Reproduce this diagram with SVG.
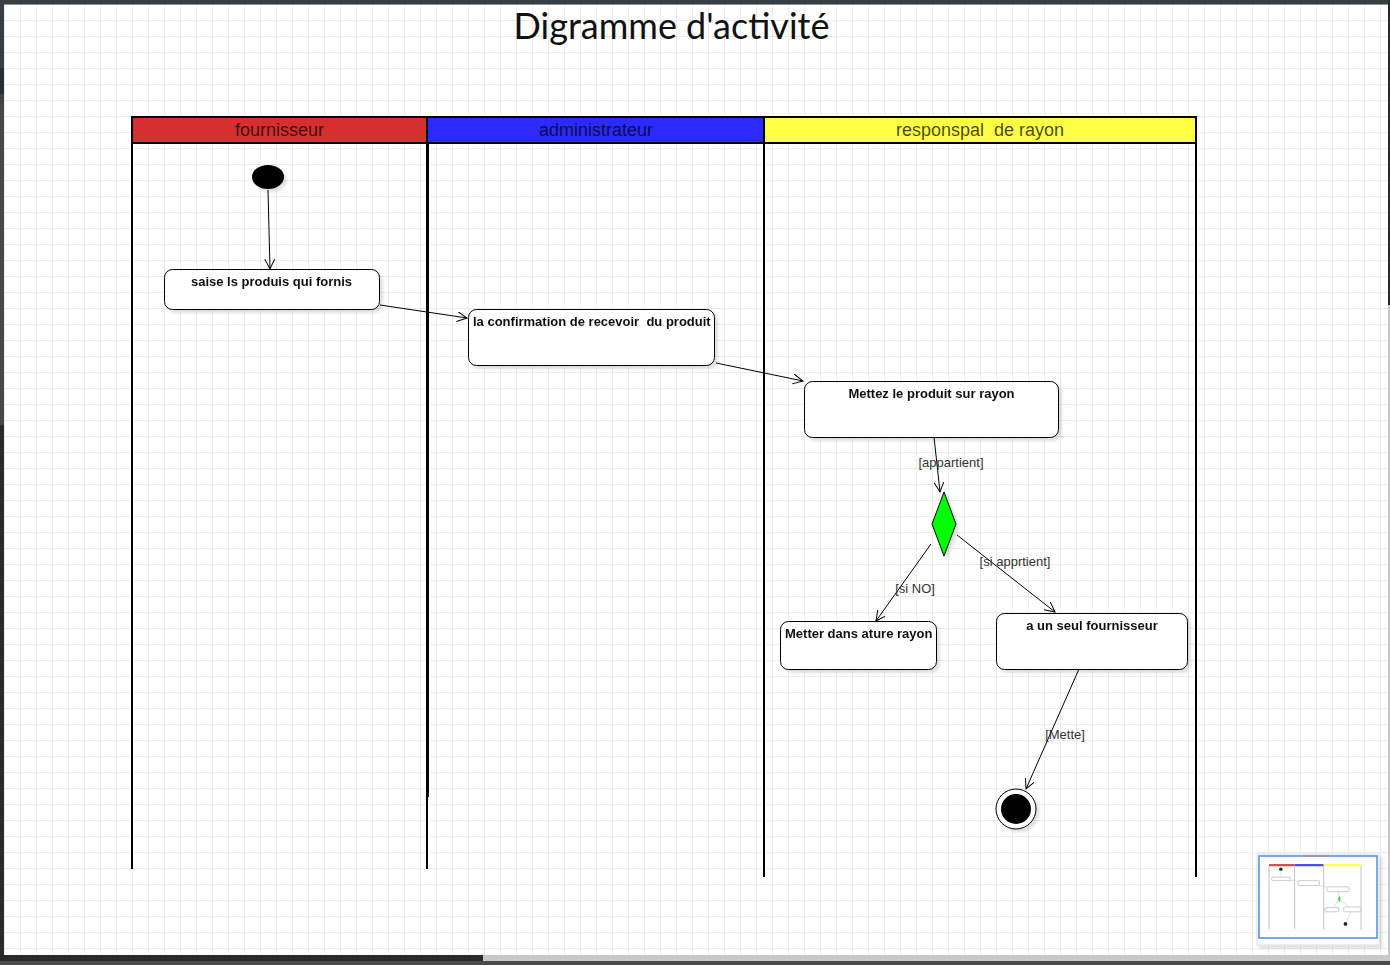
<svg xmlns="http://www.w3.org/2000/svg" width="1390" height="965" viewBox="0 0 1390 965">
<defs>
<pattern id="grid" patternUnits="userSpaceOnUse" x="4" y="4" width="16" height="16">
<rect x="0" y="0" width="1" height="16" fill="#ececec"/>
<rect x="0" y="0" width="16" height="1" fill="#ececec"/>
</pattern>
<filter id="sh" x="-20%" y="-20%" width="150%" height="150%">
<feGaussianBlur in="SourceAlpha" stdDeviation="1.5"/>
<feOffset dx="3" dy="3" result="b"/>
<feComponentTransfer><feFuncA type="linear" slope="0.12"/></feComponentTransfer>
<feMerge><feMergeNode/><feMergeNode in="SourceGraphic"/></feMerge>
</filter>
<marker id="arr" markerUnits="userSpaceOnUse" markerWidth="12" markerHeight="12" refX="10" refY="5" orient="auto" viewBox="0 0 12 12">
<path d="M0,0 L10,5 L0,10" fill="none" stroke="#000" stroke-width="1"/>
</marker>
<style>
.lane{stroke:#000;stroke-width:2;fill:none}
.hdr{stroke:#000;stroke-width:2}
.htxt{font-family:"Liberation Sans",Arial,sans-serif;font-size:18px;fill:#000;fill-opacity:0.72;text-anchor:middle}
.act{fill:#fff;stroke:#000;stroke-width:1}
.atxt{font-family:"Liberation Sans",Arial,sans-serif;font-size:13px;font-weight:bold;fill:#111}
.lbl{font-family:"Liberation Sans",Arial,sans-serif;font-size:13px;fill:#333}
.con{stroke:#000;stroke-width:1;fill:none;marker-end:url(#arr)}
.mini{fill:none;stroke:#bbb;stroke-width:12}
</style>
</defs>
<!-- window chrome -->
<rect x="0" y="0" width="1390" height="965" fill="#fff"/>
<rect x="4" y="4" width="1384" height="951" fill="url(#grid)"/>
<rect x="0" y="0" width="1390" height="4.5" fill="#393e42"/>
<rect x="0" y="0" width="4" height="68" fill="#393e42"/>
<rect x="0" y="68" width="4" height="26" fill="#2b2e30"/>
<rect x="0" y="94" width="4" height="10" fill="#3c4347"/>
<rect x="0" y="104" width="4" height="321" fill="#474747"/>
<rect x="0" y="425" width="4" height="540" fill="#2a2a2a"/>
<rect x="1388" y="0" width="2" height="305" fill="#2a2a2a"/>
<rect x="1388" y="305" width="2" height="650" fill="#c8c8c8"/>
<rect x="0" y="955" width="483" height="6" fill="#2a2a2a"/>
<rect x="483" y="955" width="907" height="6" fill="#c8c8c8"/>
<rect x="0" y="961" width="1390" height="4" fill="#4a4a4a"/>

<text x="671.5" y="39" font-family="Lato, sans-serif" font-size="36" fill="#111" text-anchor="middle">Digramme d'activité</text>

<g id="swimlanes">
<rect x="132" y="117" width="295" height="26" fill="#d62f2f" class="hdr"/>
<rect x="427" y="117" width="337" height="26" fill="#2b2bff" class="hdr"/>
<rect x="764" y="117" width="432" height="26" fill="#ffff44" class="hdr"/>
<text class="htxt" x="279.5" y="135.5">fournisseur</text>
<text class="htxt" x="596" y="135.5">administrateur</text>
<text class="htxt" x="980" y="135.5" xml:space="preserve">responspal  de rayon</text>
<line class="lane" x1="132" y1="143" x2="132" y2="869"/>
<line x1="427.5" y1="143" x2="427.5" y2="797" stroke="#000" stroke-width="3"/>
<line class="lane" x1="427" y1="797" x2="427" y2="869"/>
<line class="lane" x1="764" y1="143" x2="764" y2="877"/>
<line class="lane" x1="1196" y1="143" x2="1196" y2="877"/>
</g>

<g id="connectors">
<line class="con" x1="268" y1="190" x2="270" y2="269"/>
<line class="con" x1="380" y1="305" x2="467" y2="318"/>
<line class="con" x1="716" y1="363" x2="803" y2="381"/>
<line class="con" x1="934" y1="437" x2="940" y2="492"/>
<text class="lbl" x="951" y="466.5" text-anchor="middle">[appartient]</text>
<line class="con" x1="931" y1="544" x2="876" y2="621"/>
<text class="lbl" x="915" y="592.5" text-anchor="middle">[si NO]</text>
<line class="con" x1="957" y1="535" x2="1055" y2="612"/>
<text class="lbl" x="1015" y="565.5" text-anchor="middle">[si apprtient]</text>
<line class="con" x1="1079" y1="669" x2="1026" y2="789"/>
<text class="lbl" x="1065" y="738.5" text-anchor="middle">[Mette]</text>
</g>

<g id="start" filter="url(#sh)">
<ellipse cx="268" cy="177" rx="16" ry="12" fill="#000"/>
</g>
<g id="a1" filter="url(#sh)">
<rect class="act" x="164.5" y="269.5" width="215" height="40" rx="8"/>
<text class="atxt" x="271.5" y="286" text-anchor="middle">saise ls produis qui fornis</text>
</g>
<g id="a2" filter="url(#sh)">
<rect class="act" x="468.5" y="309.5" width="246" height="56" rx="8"/>
<text class="atxt" x="473" y="326" xml:space="preserve">la confirmation de recevoir  du produit</text>
</g>
<g id="a3" filter="url(#sh)">
<rect class="act" x="804.5" y="381.5" width="254" height="56" rx="8"/>
<text class="atxt" x="931.5" y="398" text-anchor="middle">Mettez le produit sur rayon</text>
</g>
<g id="decision" filter="url(#sh)">
<polygon points="944,492 956,524 944,556 932,524" fill="#00ff00" stroke="#000" stroke-width="1"/>
</g>
<g id="a4" filter="url(#sh)">
<rect class="act" x="780.5" y="621.5" width="156" height="48" rx="8"/>
<text class="atxt" x="785" y="638">Metter dans ature rayon</text>
</g>
<g id="a5" filter="url(#sh)">
<rect class="act" x="996.5" y="613.5" width="191" height="56" rx="8"/>
<text class="atxt" x="1092" y="630" text-anchor="middle">a un seul fournisseur</text>
</g>
<g id="end" filter="url(#sh)">
<circle cx="1016" cy="809" r="20" fill="#fff" stroke="#000" stroke-width="1"/>
<circle cx="1016" cy="809" r="15" fill="#000"/>
</g>

<g id="minimap">
<rect x="1257" y="854" width="122" height="91" fill="#fff" filter="url(#sh)" stroke="#ddd" stroke-width="1"/>
<rect x="1259" y="856" width="118" height="82" fill="none" stroke="#4a90e2" stroke-width="1.5"/>
<g transform="translate(1257.6,853.9) scale(0.0865)" opacity="0.85">
<rect x="132" y="117" width="295" height="26" fill="#d62f2f"/>
<rect x="427" y="117" width="337" height="26" fill="#2b2bff"/>
<rect x="764" y="117" width="432" height="26" fill="#ffff44"/>
<path class="mini" d="M132,143V869M427,143V869M764,143V877M1196,143V877"/>
<path d="M514,25H829" stroke="#999" stroke-width="20"/>
<ellipse cx="268" cy="177" rx="20" ry="20" fill="#000"/>
<rect x="164" y="269" width="215" height="40" rx="8" fill="#fff" stroke="#bbb" stroke-width="10"/>
<rect x="468" y="309" width="247" height="56" rx="8" fill="#fff" stroke="#bbb" stroke-width="10"/>
<rect x="804" y="381" width="255" height="56" rx="8" fill="#fff" stroke="#bbb" stroke-width="10"/>
<rect x="780" y="621" width="157" height="48" rx="8" fill="#fff" stroke="#bbb" stroke-width="10"/>
<rect x="996" y="613" width="192" height="56" rx="8" fill="#fff" stroke="#bbb" stroke-width="10"/>
<polygon points="944,492 956,524 944,556 932,524" fill="#00ff00" stroke="#0a0" stroke-width="6"/>
<circle cx="1016" cy="809" r="22" fill="#000"/>
<path d="M380,305L468,318M716,363L803,381M934,437L940,492M931,544L876,621M957,535L1055,612M1079,669L1026,789M268,190L270,269" stroke="#ccc" stroke-width="8" fill="none"/>
</g>
</g>
</svg>
